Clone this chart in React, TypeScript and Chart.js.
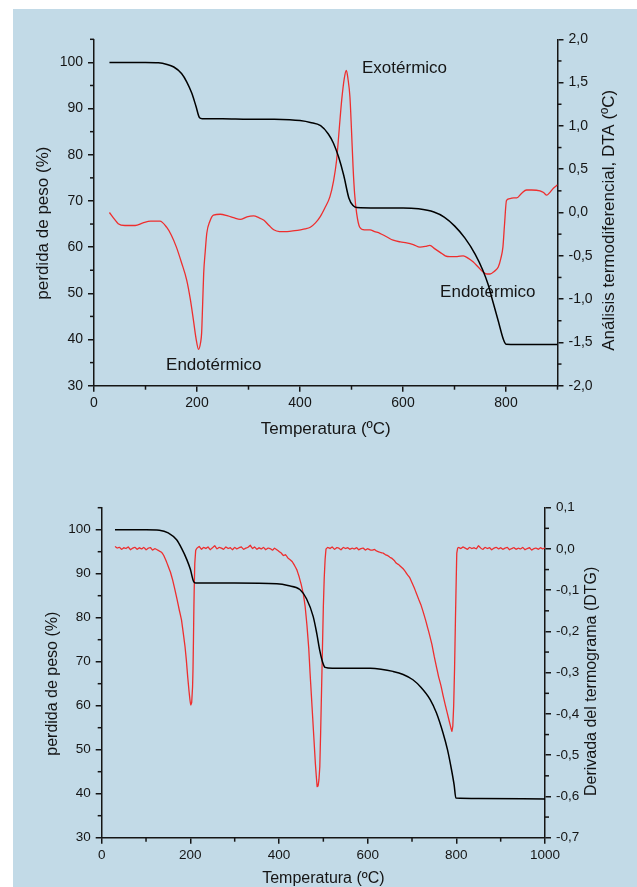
import { useEffect, useRef } from 'react';
import { Chart, registerables } from 'chart.js';

Chart.register(...registerables);

const FAMILY = '"Liberation Sans", Arial, Helvetica, sans-serif';
const BG = '#c2dae7';
const INK = '#151515';
const RED = '#ee2e2e';

// ---------- Top chart: TGA + DTA ----------
const tgaTempTop = [30, 60, 100, 125, 140, 155, 170, 180, 190, 198, 205, 210, 250, 300, 350, 380, 400, 420, 440, 455, 465, 475, 485, 495, 503, 510, 550, 600, 630, 660, 680, 700, 720, 740, 755, 765, 775, 785, 795, 800, 850, 900];
const tgaMassTop = [100, 100, 100, 99.9, 99.6, 99.0, 97.6, 95.8, 93.3, 90.5, 88.0, 87.8, 87.8, 87.7, 87.7, 87.6, 87.4, 87.0, 86.3, 84.5, 82.5, 79.5, 75.5, 70.6, 69.0, 68.6, 68.5, 68.5, 68.3, 67.6, 66.5, 64.6, 62.0, 58.5, 55.0, 52.0, 48.0, 44.0, 40.0, 39.0, 38.9, 38.9];

const dtaTemp = [30, 40, 47, 60, 80, 95, 110, 128, 141, 150, 160, 170, 180, 187, 193, 198, 203, 207, 209, 211, 213, 216, 219, 225, 232, 245, 260, 271, 284, 297, 310, 320, 330, 340, 349, 360, 375, 390, 401, 410, 420, 430, 439, 448, 458, 465, 471, 476, 481, 486, 490, 493, 497, 500, 503, 506, 510, 516, 525, 536, 545, 555, 568, 581, 595, 607, 620, 633, 645, 652, 662, 672, 682, 691, 705, 717, 727, 736, 746, 756, 763, 769, 777, 785, 790, 794, 797, 801, 808, 815, 821, 830, 840, 850, 866, 873, 879, 885, 892, 900];
const dtaValue = [0.0, -0.08, -0.13, -0.15, -0.15, -0.12, -0.10, -0.10, -0.17, -0.26, -0.40, -0.58, -0.78, -1.0, -1.24, -1.45, -1.58, -1.5, -1.39, -1.05, -0.70, -0.45, -0.24, -0.10, -0.03, -0.02, -0.04, -0.06, -0.08, -0.05, -0.04, -0.06, -0.09, -0.15, -0.20, -0.22, -0.22, -0.21, -0.20, -0.19, -0.17, -0.12, -0.05, 0.05, 0.18, 0.36, 0.60, 0.95, 1.30, 1.55, 1.64, 1.55, 1.33, 0.95, 0.53, 0.22, -0.01, -0.17, -0.20, -0.20, -0.22, -0.24, -0.28, -0.32, -0.34, -0.35, -0.37, -0.40, -0.39, -0.38, -0.42, -0.46, -0.50, -0.51, -0.51, -0.50, -0.53, -0.57, -0.63, -0.69, -0.71, -0.71, -0.68, -0.63, -0.53, -0.40, -0.15, 0.14, 0.16, 0.17, 0.17, 0.22, 0.26, 0.26, 0.25, 0.23, 0.20, 0.23, 0.28, 0.32];

const topLeftMinor = [35, 45, 55, 65, 75, 85, 95, 105];
const topRightMinor = [-1.75, -1.25, -0.75, -0.25, 0.25, 0.75, 1.25, 1.75];
const topXMinor = [100, 300, 500, 700, 900];

const topLabels = ['Exotérmico', 'Endotérmico', 'Endotérmico'];
const topLabelTemp = [603, 232.6, 764.7];
const topLabelValue = [1.666, -1.767, -0.917];

// ---------- Bottom chart: TGA + DTG ----------
const tgaTempBot = [30, 100, 130, 150, 169, 180, 192, 200, 207, 212, 300, 395, 420, 447, 462, 477, 485, 492, 498, 504, 520, 606, 630, 657, 680, 702, 720, 741, 755, 770, 780, 789, 795, 799, 850, 1000];
const tgaMassBot = [100, 100, 99.9, 99.3, 97.7, 95.8, 93.2, 91.0, 88.3, 87.9, 87.9, 87.7, 87.3, 86.4, 84.3, 80.3, 76.5, 72.5, 70.0, 68.7, 68.5, 68.5, 68.3, 67.8, 67.1, 65.9, 64.2, 61.4, 58.4, 53.8, 50.0, 45.5, 42.0, 39.0, 38.9, 38.8];

const dtgTemp = [
  30, 35, 40, 45, 50, 55, 60, 65, 70, 75, 80, 85, 90, 95, 100, 105, 110, 115, 120, 125, 130,
  135, 140, 145, 150, 155, 160, 165, 170, 175, 180, 185, 188, 191, 194, 197, 199, 201, 203, 205, 206, 207, 208, 209, 210, 212,
  215, 220, 225, 230, 235, 240, 245, 250, 255, 260, 265, 270, 275, 280, 285, 290, 295, 300, 305, 310, 315, 320, 325, 330, 335, 340, 345, 350, 355, 360, 365, 370, 375, 380, 385, 390, 395,
  400, 405, 410, 415, 420, 425, 430, 435, 440, 445, 450, 455, 459, 463, 467, 470, 473, 476, 479, 482, 484, 486, 488, 490, 492, 494, 496, 498, 500, 502, 504, 506,
  510, 515, 520, 525, 530, 535, 540, 545, 550, 555, 560, 565, 570, 575, 580, 585, 590, 595, 600, 605, 610, 615, 620,
  625, 630, 635, 640, 645, 650, 655, 660, 665, 670, 675, 680, 685, 690, 695, 700, 705, 710, 715, 720, 725, 730, 735, 740, 745, 750, 755, 760, 765, 770, 775, 780, 785, 788, 790, 792, 794, 796, 798, 800, 801, 803,
  805, 810, 815, 820, 825, 830, 835, 840, 845, 850, 855, 860, 865, 870, 875, 880, 885, 890, 895, 900, 905, 910, 915, 920, 925, 930, 935, 940, 945, 950, 955, 960, 965, 970, 975, 980, 985, 990, 995, 1000,
];
const dtgValue = [
  0.006, 0.002, 0.004, -0.001, 0.003, 0.001, 0.005, -0.002, 0.002, 0.004, -0.001, 0.003, 0.0, 0.004, -0.002, 0.002, 0.003, -0.003, 0.001, -0.002, -0.005,
  -0.008, -0.016, -0.028, -0.042, -0.056, -0.075, -0.098, -0.122, -0.148, -0.172, -0.212, -0.237, -0.27, -0.31, -0.345, -0.365, -0.378, -0.372, -0.334, -0.29, -0.22, -0.14, -0.08, -0.035, -0.004,
  0.002, 0.006, -0.001, 0.004, 0.001, 0.005, -0.002, 0.003, 0.008, 0.0, 0.004, 0.002, -0.001, 0.005, 0.001, 0.003, -0.002, 0.004, 0.0, 0.003, 0.005, -0.001, 0.002, 0.004, 0.009, 0.001, 0.005, -0.001, 0.003, 0.0, 0.004, -0.002, 0.002, 0.001, -0.003, 0.002, -0.002,
  -0.006, -0.01, -0.016, -0.014, -0.022, -0.026, -0.031, -0.04, -0.05, -0.066, -0.086, -0.11, -0.14, -0.185, -0.24, -0.30, -0.355, -0.41, -0.465, -0.52, -0.55, -0.576, -0.575, -0.56, -0.528, -0.44, -0.34, -0.24, -0.14, -0.07, -0.025, 0.0,
  0.004, 0.001, 0.005, -0.001, 0.003, 0.002, -0.002, 0.004, 0.001, 0.003, -0.001, 0.002, 0.0, 0.003, -0.002, 0.001, 0.002, -0.003, 0.001, -0.002, -0.003, -0.001, -0.005,
  -0.007, -0.009, -0.01, -0.014, -0.016, -0.02, -0.023, -0.028, -0.035, -0.038, -0.043, -0.048, -0.055, -0.063, -0.07, -0.082, -0.094, -0.108, -0.122, -0.135, -0.152, -0.17, -0.19, -0.21, -0.232, -0.26, -0.285, -0.31, -0.33, -0.355, -0.378, -0.40, -0.422, -0.435, -0.442, -0.43, -0.38, -0.29, -0.17, -0.06, -0.01, 0.002,
  0.004, 0.001, 0.005, 0.002, -0.001, 0.004, 0.001, 0.003, 0.0, 0.008, 0.002, -0.001, 0.004, 0.001, 0.003, -0.002, 0.002, 0.004, 0.0, 0.003, -0.001, 0.002, 0.004, -0.002, 0.001, 0.003, -0.001, 0.002, 0.0, 0.004, -0.002, 0.001, 0.003, -0.003, 0.001, 0.002, -0.001, 0.003, 0.0, 0.003,
];

const botLeftMinor = [35, 45, 55, 65, 75, 85, 95, 105];
const botRightMinor = [-0.65, -0.55, -0.45, -0.35, -0.25, -0.15, -0.05, 0.05];
const botXMinor = [100, 300, 500, 700, 900];

// ---------- helpers ----------
const pts = (xs: number[], ys: number[]) => xs.map((x, i) => ({ x, y: ys[i] }));
const comma = (v: number) => {
  const n = Math.abs(v) < 1e-9 ? 0 : v;
  return n.toFixed(1).replace('.', ',');
};
const plain = (v: number) => String(Math.round(v));

const minorTicksPlugin = {
  id: 'minorTicks',
  afterDraw(chart: any, _a: any, opts: any) {
    const ctx = chart.ctx;
    ctx.save();
    ctx.strokeStyle = INK;
    ctx.lineWidth = 1.5;
    for (const m of opts.list || []) {
      const s = chart.scales[m.id];
      for (const v of m.values) {
        const p = s.getPixelForValue(v);
        ctx.beginPath();
        if (s.position === 'left') {
          ctx.moveTo(s.right, p);
          ctx.lineTo(s.right - opts.length, p);
        } else if (s.position === 'right') {
          ctx.moveTo(s.left, p);
          ctx.lineTo(s.left + opts.length, p);
        } else {
          ctx.moveTo(p, s.top);
          ctx.lineTo(p, s.top + opts.length);
        }
        ctx.stroke();
      }
    }
    ctx.restore();
  },
};

const extrasPlugin = {
  id: 'extras',
  beforeDatasetsDraw(chart: any, _a: any, opts: any) {
    const ctx = chart.ctx;
    ctx.save();
    ctx.fillStyle = INK;
    ctx.textAlign = 'center';
    ctx.textBaseline = 'middle';
    ctx.font = `${opts.labelSize}px ${FAMILY}`;
    (opts.labels || []).forEach((t: string, i: number) => {
      const x = chart.scales.x.getPixelForValue(opts.labelX[i]);
      const y = chart.scales[opts.labelScale].getPixelForValue(opts.labelY[i]);
      ctx.fillText(t, x, y);
    });
    ctx.restore();
  },
  afterDraw(chart: any, _a: any, opts: any) {
    const ctx = chart.ctx;
    ctx.save();
    ctx.fillStyle = INK;
    ctx.textAlign = 'center';
    ctx.textBaseline = 'middle';
    ctx.font = `${opts.titleSize}px ${FAMILY}`;
    for (const t of opts.titles || []) {
      const s = chart.scales[t.id];
      if (s.position === 'bottom') {
        const cx = (chart.chartArea.left + chart.chartArea.right) / 2;
        ctx.fillText(t.text, cx, s.bottom - t.offset);
      } else {
        const cy = s.getPixelForValue(t.center);
        const cx = s.position === 'left' ? s.left + t.offset : s.right - t.offset;
        ctx.save();
        ctx.translate(cx, cy);
        ctx.rotate(-Math.PI / 2);
        ctx.fillText(t.text, 0, 0);
        ctx.restore();
      }
    }
    ctx.restore();
  },
};

function axisCommon(tickSize: number) {
  return {
    grid: { drawOnChartArea: false, tickLength: 6, color: INK, lineWidth: 1.5 },
    border: { color: INK, width: 1.5 },
    ticks: { font: { family: FAMILY, size: tickSize }, color: INK, includeBounds: false, autoSkip: false, maxRotation: 0 },
  };
}

function makeConfig(spec: any) {
  const c = axisCommon(spec.tickSize);
  return {
    type: 'line',
    data: {
      datasets: [
        {
          data: spec.black,
          yAxisID: 'y',
          borderColor: '#000',
          borderWidth: 1.5,
          borderJoinStyle: 'round',
          pointRadius: 0,
          cubicInterpolationMode: 'monotone',
        },
        {
          data: spec.red,
          yAxisID: 'y2',
          borderColor: RED,
          borderWidth: 1.3,
          borderJoinStyle: 'round',
          pointRadius: 0,
          ...(spec.redSmooth ? { cubicInterpolationMode: 'monotone' } : { tension: 0.02 }),
        },
      ],
    },
    options: {
      animation: false,
      responsive: false,
      maintainAspectRatio: false,
      parsing: true,
      layout: { padding: { top: spec.padTop, left: 0, right: 0, bottom: 0 } },
      plugins: {
        legend: { display: false },
        tooltip: { enabled: false },
        minorTicks: { length: 4, list: spec.minor },
        extras: spec.extras,
      },
      scales: {
        x: {
          type: 'linear',
          position: 'bottom',
          min: spec.xMin,
          max: spec.xMax,
          grid: c.grid,
          border: c.border,
          ticks: { ...c.ticks, stepSize: 200, padding: 3, callback: (v: number) => plain(v) },
          afterFit: (s: any) => { s.height = spec.xHeight; },
        },
        y: {
          type: 'linear',
          position: 'left',
          min: 30,
          max: 105,
          grid: c.grid,
          border: c.border,
          ticks: { ...c.ticks, stepSize: 10, padding: 5, callback: (v: number) => plain(v) },
          afterFit: (s: any) => { s.width = spec.leftWidth; },
        },
        y2: {
          type: 'linear',
          position: 'right',
          min: spec.y2Min,
          max: spec.y2Max,
          grid: c.grid,
          border: c.border,
          ticks: { ...c.ticks, stepSize: spec.y2Step, padding: 5, callback: (v: number) => comma(v) },
          afterFit: (s: any) => { s.width = spec.rightWidth; },
        },
      },
    },
    plugins: [minorTicksPlugin, extrasPlugin],
  };
}

const topSpec = {
  tickSize: 14,
  black: pts(tgaTempTop, tgaMassTop),
  red: pts(dtaTemp, dtaValue),
  redSmooth: true,
  padTop: 30.3,
  xMin: 0,
  xMax: 900,
  xHeight: 63.3,
  leftWidth: 81,
  rightWidth: 79.5,
  y2Min: -2,
  y2Max: 2,
  y2Step: 0.5,
  minor: [
    { id: 'y', values: topLeftMinor },
    { id: 'y2', values: topRightMinor },
    { id: 'x', values: topXMinor },
  ],
  extras: {
    labelSize: 17,
    titleSize: 17,
    labels: topLabels,
    labelX: topLabelTemp,
    labelY: topLabelValue,
    labelScale: 'y2',
    titles: [
      { id: 'x', text: 'Temperatura (ºC)', offset: 20 },
      { id: 'y', text: 'perdida de peso (%)', offset: 30, center: 65.2 },
      { id: 'y2', text: 'Análisis termodiferencial, DTA (ºC)', offset: 28, center: -0.09 },
    ],
  },
};

const botSpec = {
  tickSize: 13.5,
  black: pts(tgaTempBot, tgaMassBot),
  red: pts(dtgTemp, dtgValue),
  redSmooth: false,
  padTop: 58.7,
  xMin: 0,
  xMax: 1000,
  xHeight: 51.3,
  leftWidth: 88.7,
  rightWidth: 92,
  y2Min: -0.7,
  y2Max: 0.1,
  y2Step: 0.1,
  minor: [
    { id: 'y', values: botLeftMinor },
    { id: 'y2', values: botRightMinor },
    { id: 'x', values: botXMinor },
  ],
  extras: {
    labelSize: 16,
    titleSize: 16,
    labels: [],
    labelX: [],
    labelY: [],
    labelScale: 'y2',
    titles: [
      { id: 'x', text: 'Temperatura (ºC)', offset: 10 },
      { id: 'y', text: 'perdida de peso (%)', offset: 40, center: 65 },
      { id: 'y2', text: 'Derivada del termograma (DTG)', offset: 45, center: -0.321 },
    ],
  },
};

function ChartCanvas({ spec, top, height }: { spec: any; top: number; height: number }) {
  const ref = useRef<HTMLCanvasElement | null>(null);
  useEffect(() => {
    if (!ref.current) return;
    const chart = new Chart(ref.current, makeConfig(spec) as any);
    return () => chart.destroy();
  }, [spec]);
  return (
    <canvas
      ref={ref}
      width={624}
      height={height}
      style={{ position: 'absolute', left: 0, top, width: 624, height }}
    />
  );
}

export default function App() {
  useEffect(() => {
    document.body.style.overflow = 'hidden';
  }, []);
  return (
    <div
      style={{
        position: 'absolute',
        left: 13,
        top: 9,
        width: 624,
        height: 878,
        background: BG,
        overflow: 'hidden',
      }}
    >
      <ChartCanvas spec={topSpec} top={0} height={440} />
      <ChartCanvas spec={botSpec} top={440} height={440} />
    </div>
  );
}
